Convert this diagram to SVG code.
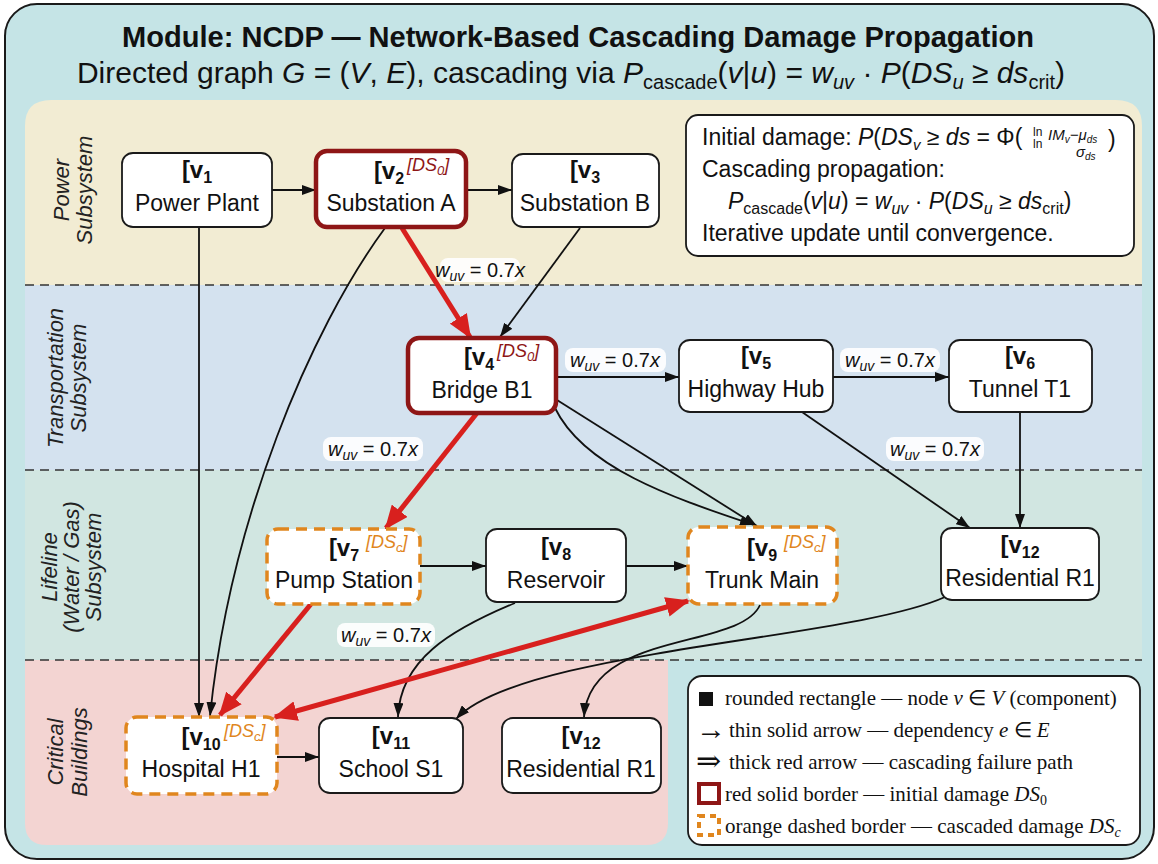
<svg xmlns="http://www.w3.org/2000/svg" width="1158" height="864" viewBox="0 0 1158 864">
<defs>
<style>
.sans{font-family:"Liberation Sans",Arial,sans-serif;}
.serif{font-family:"Liberation Serif","Times New Roman",serif;}
.node{fill:#fff;stroke:#1a1a1a;stroke-width:1.8;}
.dmg0{fill:#fff;stroke:#8e1616;stroke-width:4.5;}
.dmgc{fill:#fff;stroke:#e0861e;stroke-width:3.5;stroke-dasharray:11 7;}
.id{font-family:"Liberation Sans",Arial,sans-serif;font-weight:bold;font-size:24px;fill:#111;text-anchor:middle;}
.nm{font-family:"Liberation Sans",Arial,sans-serif;font-size:23px;fill:#111;text-anchor:middle;}
.sup0{font-family:"Liberation Sans",Arial,sans-serif;font-style:italic;font-size:18px;fill:#8e1616;}
.supc{font-family:"Liberation Sans",Arial,sans-serif;font-style:italic;font-size:18px;fill:#e0861e;}
.sub{font-size:16px;}
.thin{fill:none;stroke:#111;stroke-width:1.8;marker-end:url(#ah);}
.red{fill:none;stroke:#d8201e;stroke-width:5;marker-end:url(#rh);}
.lblbg{fill:#fff;fill-opacity:0.9;}
.lbl{font-family:"Liberation Sans",Arial,sans-serif;font-size:20px;fill:#111;text-anchor:middle;}
.it{font-style:italic;}
.side{font-family:"Liberation Sans",Arial,sans-serif;font-style:italic;font-size:22px;fill:#222;text-anchor:middle;}
.sep{stroke:#333;stroke-width:1.6;stroke-dasharray:9 6;fill:none;}
.fm{font-family:"Liberation Sans",Arial,sans-serif;font-size:23px;fill:#111;}
.lg{font-family:"Liberation Serif","Times New Roman",serif;font-size:21px;fill:#111;}
.lgi{font-family:"Liberation Serif","DejaVu Serif",serif;font-size:30px;fill:#111;}
</style>
<marker id="ah" viewBox="0 0 14 10" refX="14" refY="5" markerWidth="14" markerHeight="10" markerUnits="userSpaceOnUse" orient="auto">
<path d="M0,0 L14,5 L0,10 Z" fill="#111"/>
</marker>
<marker id="rh" viewBox="0 0 24 20" refX="22" refY="10" markerWidth="24" markerHeight="20" markerUnits="userSpaceOnUse" orient="auto-start-reverse">
<path d="M0,0 L24,10 L0,20 Z" fill="#d8201e"/>
</marker>
</defs>

<!-- frame -->
<rect x="5" y="4" width="1149" height="855" rx="32" fill="#c5e4e6" stroke="#1a1a1a" stroke-width="2"/>

<!-- bands -->
<g id="bands">
<path d="M25,285 V126 Q25,100 51,100 H1116 Q1142,100 1142,126 V285 Z" fill="#f2ecd3"/>
<rect x="25" y="285" width="1117" height="185" fill="#d4e2ef"/>
<rect x="25" y="470" width="1117" height="190" fill="#d1e6e1"/>
<path d="M25,660 H668 V823 Q668,845 646,845 H47 Q25,845 25,823 Z" fill="#f3d4d2"/>
<line class="sep" x1="25" y1="285" x2="1142" y2="285"/>
<line class="sep" x1="25" y1="470" x2="1142" y2="470"/>
<line class="sep" x1="25" y1="660" x2="1142" y2="660"/>
</g>

<!-- title -->
<g id="title">
<text class="sans" x="578" y="47" font-size="29" font-weight="bold" text-anchor="middle" fill="#111" textLength="912" lengthAdjust="spacingAndGlyphs">Module: NCDP — Network-Based Cascading Damage Propagation</text>
<text class="sans" x="571" y="83" font-size="30" text-anchor="middle" fill="#111">Directed graph <tspan class="it">G</tspan> = (<tspan class="it">V</tspan>, <tspan class="it">E</tspan>), cascading via <tspan class="it">P</tspan><tspan font-size="20" dy="6">cascade</tspan><tspan dy="-6">(</tspan><tspan class="it">v</tspan>|<tspan class="it">u</tspan>) = <tspan class="it">w</tspan><tspan class="it" font-size="20" dy="6">uv</tspan><tspan dy="-6"> · </tspan><tspan class="it">P</tspan>(<tspan class="it">DS</tspan><tspan class="it" font-size="20" dy="6">u</tspan><tspan dy="-6"> ≥ </tspan><tspan class="it">ds</tspan><tspan font-size="20" dy="6">crit</tspan><tspan dy="-6">)</tspan></text>
</g>

<!-- side labels -->
<g id="side-labels">
<text class="side" transform="translate(69,190) rotate(-90)">Power</text>
<text class="side" transform="translate(92,190) rotate(-90)">Subsystem</text>
<text class="side" transform="translate(63,378) rotate(-90)">Transportation</text>
<text class="side" transform="translate(86,378) rotate(-90)">Subsystem</text>
<text class="side" transform="translate(57,567) rotate(-90)">Lifeline</text>
<text class="side" transform="translate(79,567) rotate(-90)">(Water / Gas)</text>
<text class="side" transform="translate(101,567) rotate(-90)">Subsystem</text>
<text class="side" transform="translate(63,752) rotate(-90)">Critical</text>
<text class="side" transform="translate(87,752) rotate(-90)">Buildings</text>
</g>

<!-- connectors -->
<g id="connectors">
<path class="thin" d="M272,190 L316,190"/>
<path class="thin" d="M466,190 L512,190"/>
<path class="thin" d="M199,227 L199,717"/>
<path class="thin" d="M385,228 C310,330 230,520 210,716"/>
<path class="thin" d="M580,228 L500,337"/>
<path class="thin" d="M556,377 L679,377"/>
<path class="thin" d="M833,377 L949,377"/>
<path class="thin" d="M557,400 L757,526"/>
<path class="thin" d="M555,408 C585,470 680,500 754,525"/>
<path class="thin" d="M802,412 L970,528"/>
<path class="thin" d="M1020,412 L1020,528"/>
<path class="thin" d="M420,566 L486,566"/>
<path class="thin" d="M626,566 L688,566"/>
<path class="thin" d="M515,603 C450,630 400,660 398,717"/>
<path class="thin" d="M760,605 C740,650 590,630 584,717"/>
<path class="thin" d="M945,597 C850,640 520,650 456,719"/>
<path class="thin" d="M277,757 L319,757"/>
<path class="red" d="M402,228 L470,337"/>
<path class="red" d="M477,413 L386,528"/>
<path class="red" d="M311,604 L220,715"/>
<path class="red" d="M275,717 L688,601" marker-start="url(#rh)"/>
<!-- edge labels -->
<rect class="lblbg" x="440" y="258" width="80" height="24" rx="8"/>
<text class="lbl" x="480" y="277"><tspan class="it">w</tspan><tspan class="it" font-size="14" dy="4">uv</tspan><tspan dy="-4"> = 0.7</tspan><tspan class="it">x</tspan></text>
<rect class="lblbg" x="565" y="348" width="101" height="24" rx="8"/>
<text class="lbl" x="615" y="367"><tspan class="it">w</tspan><tspan class="it" font-size="14" dy="4">uv</tspan><tspan dy="-4"> = 0.7</tspan><tspan class="it">x</tspan></text>
<rect class="lblbg" x="840" y="348" width="100" height="24" rx="8"/>
<text class="lbl" x="890" y="367"><tspan class="it">w</tspan><tspan class="it" font-size="14" dy="4">uv</tspan><tspan dy="-4"> = 0.7</tspan><tspan class="it">x</tspan></text>
<rect class="lblbg" x="323" y="437" width="100" height="24" rx="8"/>
<text class="lbl" x="373" y="456"><tspan class="it">w</tspan><tspan class="it" font-size="14" dy="4">uv</tspan><tspan dy="-4"> = 0.7</tspan><tspan class="it">x</tspan></text>
<rect class="lblbg" x="886" y="437" width="98" height="24" rx="8"/>
<text class="lbl" x="935" y="456"><tspan class="it">w</tspan><tspan class="it" font-size="14" dy="4">uv</tspan><tspan dy="-4"> = 0.7</tspan><tspan class="it">x</tspan></text>
<rect class="lblbg" x="337" y="623" width="98" height="24" rx="8"/>
<text class="lbl" x="386" y="642"><tspan class="it">w</tspan><tspan class="it" font-size="14" dy="4">uv</tspan><tspan dy="-4"> = 0.7</tspan><tspan class="it">x</tspan></text>
</g>

<!-- nodes -->
<g id="v1"><rect class="node" x="122" y="153" width="150" height="74" rx="11"/>
<text class="id" x="197" y="178">[v<tspan class="sub" dy="5">1</tspan></text>
<text class="nm" x="197" y="211">Power Plant</text></g>

<g id="v2"><rect class="dmg0" x="316" y="151" width="150" height="76" rx="11"/>
<text class="id" x="389" y="179">[v<tspan class="sub" dy="5">2</tspan></text>
<text class="sup0" x="407" y="171">[<tspan>DS</tspan><tspan font-size="13" dy="4">0</tspan><tspan dy="-4">]</tspan></text>
<text class="nm" x="391" y="211">Substation A</text></g>

<g id="v3"><rect class="node" x="512" y="154" width="147" height="73" rx="11"/>
<text class="id" x="585" y="178">[v<tspan class="sub" dy="5">3</tspan></text>
<text class="nm" x="585" y="211">Substation B</text></g>

<g id="v4"><rect class="dmg0" x="408" y="338" width="148" height="75" rx="11"/>
<text class="id" x="479" y="365">[v<tspan class="sub" dy="5">4</tspan></text>
<text class="sup0" x="497" y="357">[<tspan>DS</tspan><tspan font-size="13" dy="4">0</tspan><tspan dy="-4">]</tspan></text>
<text class="nm" x="482" y="398">Bridge B1</text></g>

<g id="v5"><rect class="node" x="679" y="340" width="154" height="72" rx="11"/>
<text class="id" x="756" y="364">[v<tspan class="sub" dy="5">5</tspan></text>
<text class="nm" x="756" y="397">Highway Hub</text></g>

<g id="v6"><rect class="node" x="949" y="340" width="143" height="72" rx="11"/>
<text class="id" x="1020" y="364">[v<tspan class="sub" dy="5">6</tspan></text>
<text class="nm" x="1020" y="397">Tunnel T1</text></g>

<g id="v7"><rect class="dmgc" x="267" y="529" width="153" height="75" rx="11"/>
<text class="id" x="344" y="556">[v<tspan class="sub" dy="5">7</tspan></text>
<text class="supc" x="366" y="548">[<tspan>DS</tspan><tspan font-size="13" dy="4">c</tspan><tspan dy="-4">]</tspan></text>
<text class="nm" x="344" y="588">Pump Station</text></g>

<g id="v8"><rect class="node" x="486" y="529" width="140" height="73" rx="11"/>
<text class="id" x="556" y="555">[v<tspan class="sub" dy="5">8</tspan></text>
<text class="nm" x="556" y="588">Reservoir</text></g>

<g id="v9"><rect class="dmgc" x="688" y="527" width="149" height="77" rx="11"/>
<text class="id" x="762" y="556">[v<tspan class="sub" dy="5">9</tspan></text>
<text class="supc" x="784" y="548">[<tspan>DS</tspan><tspan font-size="13" dy="4">c</tspan><tspan dy="-4">]</tspan></text>
<text class="nm" x="762" y="588">Trunk Main</text></g>

<g id="v12-lifeline"><rect class="node" x="941" y="528" width="158" height="72" rx="11"/>
<text class="id" x="1020" y="553">[v<tspan class="sub" dy="5">12</tspan></text>
<text class="nm" x="1020" y="586">Residential R1</text></g>

<g id="v10"><rect class="dmgc" x="126" y="717" width="151" height="77" rx="11"/>
<text class="id" x="201" y="745">[v<tspan class="sub" dy="5">10</tspan></text>
<text class="supc" x="224" y="737">[<tspan>DS</tspan><tspan font-size="13" dy="4">c</tspan><tspan dy="-4">]</tspan></text>
<text class="nm" x="201" y="777">Hospital H1</text></g>

<g id="v11"><rect class="node" x="319" y="718" width="144" height="75" rx="11"/>
<text class="id" x="391" y="744">[v<tspan class="sub" dy="5">11</tspan></text>
<text class="nm" x="391" y="777">School S1</text></g>

<g id="v12-building"><rect class="node" x="502" y="718" width="159" height="75" rx="11"/>
<text class="id" x="581" y="744">[v<tspan class="sub" dy="5">12</tspan></text>
<text class="nm" x="581" y="777">Residential R1</text></g>

<!-- formula box -->
<g id="formula">
<rect x="686" y="115" width="448" height="141" rx="12" fill="#fff" stroke="#1a1a1a" stroke-width="1.8"/>
<text class="fm" x="702" y="145" font-size="22">Initial damage:  <tspan class="it">P</tspan>(<tspan class="it">DS</tspan><tspan class="it" font-size="15" dy="5">v</tspan><tspan dy="-5"> ≥ </tspan><tspan class="it">ds</tspan> = Φ(</text>
<text class="sans" x="1033" y="136" font-size="12" fill="#111">ln</text>
<text class="sans" x="1033" y="148" font-size="12" fill="#111">ln</text>
<text class="sans it" x="1048" y="140" font-size="15" fill="#111">IM<tspan font-size="10" dy="3">v</tspan><tspan dy="-3">−μ</tspan><tspan font-size="10" dy="3">ds</tspan></text>
<text class="sans it" x="1076" y="157" font-size="15" fill="#111">σ<tspan font-size="10" dy="3">ds</tspan></text>
<text class="fm" x="1108" y="147">)</text>
<text class="fm" x="702" y="177">Cascading propagation:</text>
<text class="fm" x="728" y="209"><tspan class="it">P</tspan><tspan font-size="16" dy="5">cascade</tspan><tspan dy="-5">(</tspan><tspan class="it">v</tspan>|<tspan class="it">u</tspan>) = <tspan class="it">w</tspan><tspan class="it" font-size="16" dy="5">uv</tspan><tspan dy="-5"> · </tspan><tspan class="it">P</tspan>(<tspan class="it">DS</tspan><tspan class="it" font-size="16" dy="5">u</tspan><tspan dy="-5"> ≥ </tspan><tspan class="it">ds</tspan><tspan font-size="16" dy="5">crit</tspan><tspan dy="-5">)</tspan></text>
<text class="fm" x="702" y="241">Iterative update until convergence.</text>
</g>

<!-- legend -->
<g id="legend">
<rect x="688" y="676" width="452" height="169" rx="14" fill="#fff" stroke="#1a1a1a" stroke-width="1.8"/>
<rect x="699" y="692" width="14" height="14" fill="#111"/>
<text class="lg" x="725" y="705">rounded rectangle — node <tspan class="it">v</tspan> ∈ <tspan class="it">V</tspan> (component)</text>
<text class="lgi" x="696" y="739" font-weight="bold">→</text>
<text class="lg" x="729" y="737">thin solid arrow — dependency <tspan class="it">e</tspan> ∈ <tspan class="it">E</tspan></text>
<text class="lgi" x="696" y="771">⇒</text>
<text class="lg" x="729" y="769">thick red arrow — cascading failure path</text>
<rect x="699" y="784" width="20" height="19" fill="#fff" stroke="#8e1616" stroke-width="4"/>
<text class="lg" x="725" y="801">red solid border — initial damage <tspan class="it">DS</tspan><tspan font-size="14" dy="4">0</tspan></text>
<rect x="699" y="816" width="20" height="19" fill="#fff" stroke="#e0861e" stroke-width="4" stroke-dasharray="6 5"/>
<text class="lg" x="725" y="833">orange dashed border — cascaded damage <tspan class="it">DS</tspan><tspan class="it" font-size="14" dy="4">c</tspan></text>
</g>
</svg>
